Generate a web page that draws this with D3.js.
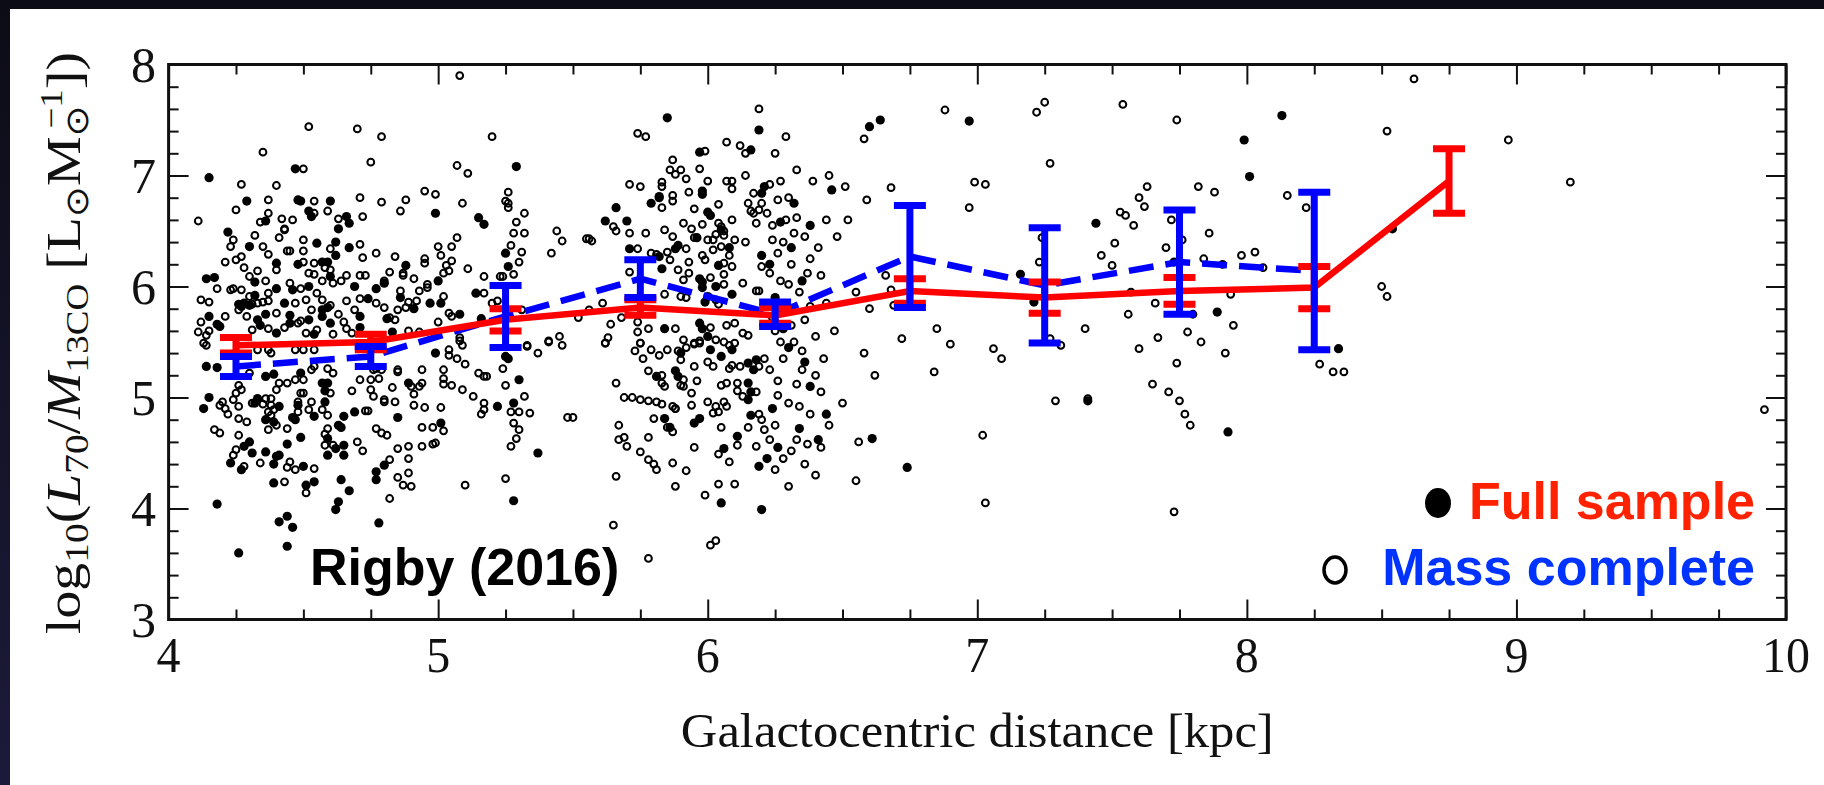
<!DOCTYPE html>
<html><head><meta charset="utf-8">
<script src="https://cdn.jsdelivr.net/npm/d3@7"></script>
<style>body{margin:0;background:#fff;} svg{display:block}</style>
</head><body>
<svg id="c" width="1824" height="785"></svg>
<script>
// ---------- DATA ----------
const openPts = [
[4.52,7.44],[4.70,7.42],[4.35,7.21],[4.50,7.06],[4.27,6.92],[4.40,6.91],[4.37,6.78],[4.54,6.77],[4.71,6.80],[4.25,6.69],[4.37,6.66],[4.54,6.66],[4.59,6.68],[4.72,6.63],[4.11,6.59],[4.34,6.58],[4.42,6.61],[4.46,6.60],[4.63,6.61],[4.43,6.52],[4.43,6.51],[4.32,6.46],[4.24,6.42],[4.41,6.44],[4.50,6.42],[4.23,6.36],[4.35,6.36],[4.71,6.38],[4.45,6.32],[4.44,6.32],[4.50,6.32],[4.60,6.34],[4.37,6.29],[4.27,6.27],[4.21,6.22],[4.25,6.24],[4.72,6.26],[4.50,6.22],[4.54,6.21],[4.28,6.17],[4.33,6.14],[4.40,6.15],[4.58,6.17],[4.52,6.12],[4.60,6.15],[4.30,6.09],[4.54,6.11],[4.57,6.05],[4.61,6.03],[4.66,6.10],[4.71,6.10],[4.73,6.10],[4.36,6.05],[4.45,6.03],[4.64,6.05],[4.18,5.98],[4.23,5.97],[4.24,5.98],[4.27,5.97],[4.49,5.98],[4.30,5.91],[4.37,5.94],[4.55,5.94],[4.12,5.88],[4.15,5.86],[4.35,5.86],[4.37,5.87],[4.47,5.85],[4.51,5.88],[4.57,5.88],[4.66,5.87],[4.71,5.89],[4.26,5.79],[4.31,5.84],[4.33,5.85],[4.53,5.79],[4.60,5.83],[4.69,5.79],[4.21,5.73],[4.29,5.73],[4.40,5.76],[4.49,5.69],[4.63,5.75],[4.12,5.68],[4.37,5.62],[4.43,5.63],[4.48,5.67],[4.55,5.61],[4.65,5.68],[4.66,5.62],[4.11,5.59],[4.15,5.60],[4.14,5.56],[4.31,5.61],[4.51,5.58],[4.61,5.57],[4.68,5.58],[4.13,5.49],
[5.08,7.90],[4.79,7.35],[5.20,7.35],[4.75,7.12],[5.07,7.09],[5.11,7.02],[4.95,6.86],[4.99,6.83],[4.79,6.76],[4.88,6.78],[5.09,6.75],[5.26,6.85],[5.25,6.77],[5.26,6.75],[5.26,6.71],[4.86,6.68],[5.32,6.66],[5.29,6.58],[5.28,6.48],[5.32,6.48],[5.44,6.50],[5.46,6.41],[5.07,6.44],[5.00,6.36],[5.05,6.36],[5.27,6.37],[4.77,6.30],[4.84,6.27],[4.95,6.25],[4.95,6.21],[5.01,6.28],[5.05,6.23],[5.03,6.19],[5.31,6.31],[5.42,6.30],[5.30,6.22],[5.11,6.16],[4.82,6.13],[4.87,6.12],[4.87,6.10],[5.04,6.14],[5.02,6.12],[5.17,6.09],[5.23,6.09],[5.24,6.09],[5.28,6.11],[4.91,6.07],[4.80,6.05],[4.96,6.02],[4.96,5.99],[4.86,5.96],[4.93,5.96],[5.02,5.91],[5.17,5.94],[4.77,5.85],[4.80,5.81],[4.89,5.86],[4.88,5.81],[4.92,5.87],[5.20,5.85],[5.22,5.87],[4.85,5.79],[4.82,5.72],[4.84,5.70],[5.04,5.76],[5.05,5.73],[5.00,5.68],[5.31,5.79],[4.89,5.60],[4.93,5.59],[5.08,5.54],[5.08,5.51],[5.33,5.47],[5.41,5.51],[5.45,5.55],
[6.19,7.60],[5.74,7.38],[5.77,7.35],[6.07,7.30],[6.12,7.27],[6.14,7.20],[5.99,7.22],[5.87,7.14],[5.86,7.05],[5.88,7.01],[5.90,7.05],[5.92,6.97],[5.97,7.06],[6.14,7.00],[5.71,6.92],[5.75,6.90],[5.83,6.94],[5.83,6.90],[6.00,6.95],[6.07,6.95],[6.09,6.95],[6.09,6.88],[5.93,6.85],[5.87,6.82],[5.87,6.77],[6.17,6.84],[5.83,6.71],[5.95,6.70],[6.04,6.74],[6.15,6.75],[6.16,6.68],[6.17,6.66],[6.19,6.69],[6.20,6.75],[6.22,6.66],[5.65,6.54],[5.66,6.50],[5.91,6.57],[5.98,6.56],[6.04,6.57],[6.05,6.54],[6.06,6.50],[6.09,6.60],[6.18,6.57],[5.55,6.43],[5.56,6.43],[5.57,6.41],[5.71,6.48],[5.77,6.48],[5.84,6.51],[5.87,6.45],[5.94,6.52],[5.95,6.44],[6.00,6.42],[6.02,6.42],[6.03,6.47],[6.06,6.46],[6.10,6.42],[6.14,6.40],[5.74,6.34],[5.79,6.30],[5.81,6.29],[5.85,6.31],[5.86,6.24],[5.92,6.34],[5.93,6.22],[5.98,6.28],[5.99,6.24],[6.02,6.33],[6.05,6.36],[6.08,6.28],[6.06,6.21],[6.09,6.18],[6.20,6.18],[5.71,6.13],[5.89,6.15],[5.91,6.06],[5.93,6.12],[6.01,6.08],[6.06,6.11],[6.06,6.02],[6.13,6.03],[6.18,5.96],[6.19,5.96],[5.90,5.91],[5.92,5.90],[6.03,5.88],[6.04,5.84],[5.84,5.93],[5.61,5.85],[5.56,5.79],[5.52,5.72],[5.64,5.66],[5.68,5.72],[5.74,5.68],[5.74,5.59],[5.78,5.62],[5.88,5.62],[6.01,5.63],[6.07,5.65],[6.10,5.67],[6.13,5.58],[6.15,5.56],[5.63,5.54],[5.62,5.49],[5.75,5.49],[5.91,5.52],[5.95,5.48],[5.97,5.51],[6.03,5.52],[6.06,5.50],[6.10,5.49],
[4.14,5.47],[4.33,5.43],[4.37,5.43],[4.38,5.40],[4.47,5.43],[4.50,5.43],[4.54,5.43],[4.30,5.22],[4.41,5.13],[4.44,5.13],[4.47,5.16],[4.50,5.16],[4.53,5.25],[4.54,5.28],[4.61,5.22],[4.59,5.26],[4.68,5.06],[4.71,5.16],[4.26,5.11],[4.27,5.07],[4.25,5.04],[4.40,5.07],[4.49,5.04],[4.60,5.04],[4.24,4.98],[4.20,4.96],[4.19,4.93],[4.21,4.90],[4.22,4.85],[4.26,4.92],[4.31,4.95],[4.36,4.99],[4.38,4.99],[4.35,4.94],[4.38,4.93],[4.39,4.89],[4.37,4.87],[4.38,4.84],[4.48,4.87],[4.48,4.96],[4.50,5.04],[4.52,4.89],[4.53,4.96],[4.57,4.89],[4.59,4.84],[4.73,4.88],[4.26,4.81],[4.29,4.78],[4.40,4.75],[4.37,4.71],[4.44,4.72],[4.17,4.71],[4.19,4.68],[4.26,4.66],[4.25,4.53],[4.24,4.48],[4.58,4.67],[4.59,4.72],[4.58,4.57],[4.61,4.57],[4.70,4.60],[4.72,4.52],[4.28,4.38],[4.34,4.41],[4.44,4.37],[4.45,4.42],[4.47,4.35],[4.54,4.36],[4.43,4.24],[4.51,4.14],
[5.04,5.43],[5.04,5.38],[5.07,5.35],[5.09,5.47],[5.10,5.30],[5.24,5.26],[5.33,5.46],[5.37,5.40],[5.41,5.50],[5.46,5.47],[5.25,5.11],[4.76,5.25],[4.77,5.26],[4.79,5.25],[4.75,5.16],[4.78,5.17],[4.85,5.23],[4.85,5.25],[4.94,5.25],[5.02,5.25],[4.90,5.10],[4.91,5.03],[4.93,5.10],[4.94,5.13],[4.83,5.09],[4.75,5.07],[5.02,5.17],[5.02,5.12],[5.05,5.11],[5.09,5.07],[5.15,5.22],[5.17,5.19],[5.18,5.19],[5.13,5.01],[5.17,4.95],[5.17,4.89],[5.16,4.85],[5.32,5.01],[5.27,4.87],[5.30,4.87],[5.34,4.86],[5.28,4.77],[5.30,4.71],[5.29,4.63],[5.27,4.56],[5.48,4.82],[4.76,5.01],[4.80,4.98],[4.80,4.96],[4.84,4.96],[4.74,4.88],[4.91,4.93],[4.95,4.91],[5.01,4.91],[4.94,4.73],[4.98,4.73],[5.02,4.70],[4.77,4.72],[4.79,4.68],[4.81,4.66],[4.85,4.54],[4.89,4.56],[4.94,4.56],[4.98,4.58],[4.99,4.59],[4.89,4.45],[4.82,4.44],[4.85,4.28],[4.87,4.21],[4.90,4.20],[4.89,4.32],[5.10,4.21],[5.25,4.27],[4.82,4.09],
[5.62,5.49],[5.75,5.49],[5.73,5.42],[5.76,5.35],[5.79,5.43],[5.82,5.38],[5.85,5.43],[5.89,5.42],[5.90,5.34],[5.92,5.45],[5.95,5.49],[5.97,5.49],[6.00,5.32],[6.02,5.28],[6.08,5.47],[6.08,5.26],[6.09,5.29],[6.12,5.28],[6.19,5.28],[6.21,5.35],[5.78,5.24],[5.83,5.20],[5.84,5.10],[5.83,5.13],[5.91,5.16],[5.91,5.10],[5.90,5.11],[5.96,5.15],[5.95,5.28],[5.66,5.13],[5.69,5.00],[5.72,5.00],[5.75,4.98],[5.78,4.97],[5.81,4.96],[5.83,4.94],[5.87,4.92],[5.88,4.90],[5.94,5.04],[5.94,4.93],[6.00,4.96],[6.03,4.92],[6.02,4.86],[6.04,4.87],[6.06,4.96],[6.07,4.92],[6.05,5.11],[6.07,5.13],[6.11,5.13],[6.11,5.06],[6.13,5.01],[6.18,5.05],[5.50,4.82],[5.67,4.75],[5.67,4.62],[5.69,4.64],[5.70,4.56],[5.75,4.51],[5.78,4.44],[5.80,4.40],[5.81,4.35],[5.78,4.64],[5.80,4.81],[5.87,4.69],[5.85,4.73],[5.88,4.90],[5.95,4.55],[5.87,4.41],[5.92,4.34],[5.88,4.20],[5.66,4.29],[5.65,3.85],[5.78,3.55],[5.99,4.12],[6.01,3.67],[6.03,3.71],[6.04,4.22],[6.10,4.22],[6.04,4.49],[6.08,4.42],[6.05,4.73],[6.11,4.57],[6.15,4.73],[6.19,4.85],[6.20,4.80],[6.21,4.71],[6.18,4.56],
[6.25,7.20],[6.27,6.95],[6.30,6.80],[6.24,6.55],[6.28,6.40],[6.33,6.62],[6.36,6.45],[6.26,6.30],[6.31,6.20],[6.38,6.25],[6.42,6.10],[6.27,6.05],[6.34,5.95],[6.29,5.80],[6.36,5.70],[6.44,5.85],[6.25,5.60],[6.32,5.50],[6.40,5.55],[6.47,5.60],[6.28,5.35],[6.35,5.25],[6.26,5.15],[6.42,5.05],[6.30,4.95],[6.38,4.85],[6.25,4.75],[6.33,4.62],[6.45,4.75],[6.28,4.45],[6.40,4.30],[6.30,4.20],[6.48,6.45],[6.52,6.60],[6.45,7.00],[6.55,5.95],[6.60,5.80],[6.58,5.40],[6.62,5.20],[6.50,4.95],[6.56,4.60],
[6.23,6.92],[6.26,6.78],[6.24,6.42],[6.29,6.60],[6.32,6.48],[6.23,6.12],[6.30,6.02],[6.37,6.12],[6.24,5.72],[6.31,5.65],[6.38,5.82],[6.27,5.50],[6.35,5.42],[6.23,5.25],[6.33,5.12],[6.40,5.20],[6.26,5.02],[6.34,4.92],[6.23,4.62],[6.31,4.52],[6.37,4.58],[6.25,4.35],[6.36,4.40],[6.42,4.55],[6.43,5.35],[6.41,6.35],[6.44,6.60],[6.39,6.95],[6.33,7.05],[6.29,7.35],
[6.51,6.90],[6.58,7.33],[6.59,6.78],[6.68,6.89],[6.66,6.10],[6.68,5.97],[6.69,5.83],[6.72,5.53],[6.55,4.25],[6.88,7.59],[6.99,6.94],[6.97,6.71],[7.03,6.92],[6.90,5.48],[6.85,5.62],[6.84,5.23],[7.02,4.66],[7.03,4.05],[7.06,5.44],[7.09,5.35],[7.22,7.57],[7.25,7.66],[7.27,7.11],[7.24,6.44],[7.23,6.22],[7.31,5.47],[7.27,5.53],[7.29,4.97],[7.40,5.62],[7.41,4.99],[7.46,6.28],[7.50,6.19],[7.54,7.64],[7.51,6.39],[7.53,6.67],[7.55,6.64],[7.60,6.80],[7.63,6.90],[7.56,5.75],[7.60,5.44],[7.67,5.54],[7.65,5.12],[7.74,7.50],[7.74,5.31],[7.75,4.97],[7.78,5.59],[7.80,5.75],[7.82,6.90],[7.86,6.48],[7.88,6.85],[7.91,6.20],[7.94,5.93],[7.95,5.65],[7.98,6.28],[8.03,6.31],[8.06,6.17],[7.73,3.97],[8.15,6.82],[8.22,6.71],[8.27,5.30],[8.32,5.23],[8.36,5.23],[8.52,7.40],[8.62,7.87],[8.50,6.00],[8.52,5.91],[8.97,7.32],[9.20,6.94],[9.92,4.89],
[7.58,6.55],[7.62,6.72],[7.70,6.35],[7.72,6.60],[7.76,6.42],[7.84,6.25],[7.57,5.95],[7.66,5.85],[7.83,5.50],[7.92,5.40],[7.71,5.05],[7.79,4.75],[7.77,4.85]
];
const filledPts = [
[4.47,7.06],[4.15,6.98],[4.29,6.77],[4.48,6.78],[4.49,6.77],[4.60,6.77],[4.52,6.68],[4.53,6.63],[4.36,6.59],[4.66,6.63],[4.67,6.57],[4.22,6.49],[4.63,6.52],[4.55,6.39],[4.62,6.40],[4.30,6.36],[4.67,6.35],[4.62,6.28],[4.40,6.21],[4.48,6.20],[4.57,6.22],[4.59,6.22],[4.14,6.07],[4.17,6.08],[4.60,6.09],[4.32,6.04],[4.40,5.98],[4.46,5.97],[4.52,6.00],[4.69,6.00],[4.26,5.84],[4.28,5.85],[4.27,5.82],[4.30,5.83],[4.32,5.92],[4.43,5.85],[4.57,5.79],[4.59,5.81],[4.74,5.89],[4.15,5.73],[4.33,5.70],[4.36,5.75],[4.45,5.74],[4.52,5.70],[4.57,5.73],[4.71,5.73],[4.18,5.66],[4.19,5.64],[4.34,5.65],[4.45,5.67],[4.60,5.67],[4.71,5.63],[4.40,5.58],[4.54,5.57],
[5.29,7.08],[4.99,6.66],[5.15,6.62],[5.17,6.56],[5.25,6.30],[5.26,6.18],[4.88,6.19],[4.80,6.03],[5.00,6.05],[4.77,5.98],[4.86,5.90],[5.14,5.94],[4.91,5.80],[4.97,5.85],[5.01,5.85],[4.81,5.71],[5.08,5.75],[5.16,5.71],[4.83,5.59],
[5.85,7.52],[6.19,7.41],[6.16,7.23],[5.97,7.21],[6.21,6.90],[6.20,6.84],[5.98,6.86],[5.98,6.83],[5.82,6.81],[5.82,6.80],[5.79,6.75],[5.66,6.71],[6.00,6.67],[6.01,6.64],[5.62,6.59],[5.70,6.59],[5.96,6.44],[6.05,6.51],[5.71,6.34],[5.82,6.27],[5.88,6.34],[5.89,6.37],[6.08,6.35],[6.04,6.19],[6.20,6.28],[5.83,6.16],[5.97,6.07],[5.98,6.04],[5.98,5.99],[6.03,6.00],[6.09,5.93],[6.00,5.91],[5.99,5.86],[5.84,5.62],[5.97,5.67],[5.98,5.62],[6.00,5.55],
[4.14,5.28],[4.18,5.27],[4.36,5.19],[4.39,5.21],[4.49,5.22],[4.57,5.13],[4.59,5.13],[4.58,5.06],[4.15,5.00],[4.13,4.90],[4.32,4.95],[4.33,4.99],[4.41,4.92],[4.48,4.93],[4.58,4.96],[4.65,4.83],[4.69,4.87],[4.36,4.80],[4.39,4.78],[4.46,4.82],[4.47,4.80],[4.54,4.83],[4.30,4.60],[4.31,4.50],[4.28,4.56],[4.36,4.51],[4.40,4.47],[4.41,4.48],[4.44,4.58],[4.49,4.64],[4.59,4.63],[4.62,4.54],[4.65,4.48],[4.65,4.57],[4.63,4.75],[4.64,4.73],[4.59,4.48],[4.23,4.41],[4.27,4.35],[4.39,4.40],[4.50,4.38],[4.39,4.23],[4.51,4.21],[4.54,4.24],[4.64,4.26],[4.67,4.16],[4.63,4.06],[4.62,3.99],[4.18,4.04],[4.41,3.88],[4.44,3.93],[4.46,3.83],[4.44,3.66],[4.26,3.60],
[4.99,5.40],[5.25,5.37],[5.26,5.35],[5.30,5.16],[4.89,5.13],[5.22,4.92],[5.28,4.95],[4.85,4.82],[5.01,4.77],[5.37,4.50],[4.80,4.39],[4.77,4.33],[4.77,4.26],[5.28,4.07],[4.78,3.87],
[5.90,5.40],[6.01,5.43],[6.05,5.37],[6.09,5.43],[6.15,5.31],[6.17,5.25],[6.18,5.34],[5.81,5.19],[5.88,5.24],[5.89,5.19],[6.15,5.13],[6.16,5.05],[6.15,4.98],[5.84,4.81],[5.86,4.73],[5.95,4.77],[5.97,4.81],[6.06,4.54],[6.05,4.05],[6.11,4.65],[6.16,4.84],[6.19,4.38],[6.20,3.99],[6.22,4.45],
[6.27,6.58],[6.31,6.35],[6.35,6.05],[6.25,5.90],[6.30,5.45],[6.38,5.10],[6.24,4.90],[6.34,4.72],[6.44,4.85],
[6.23,6.20],[6.28,5.62],[6.36,5.32],[6.26,4.55],[6.41,4.62],[6.32,6.75],[6.38,6.55],
[6.46,6.87],[6.64,7.50],[6.60,7.44],[6.74,4.37],[6.61,4.63],[6.97,7.49],[7.16,6.11],[7.21,5.86],[7.44,6.57],[7.41,4.97],[7.73,6.22],[7.89,5.77],[7.93,4.69],[7.99,7.32],[8.01,6.99],[8.13,7.54],[8.34,5.44],[8.54,6.52]
];
const binCentres   = [4.25, 4.75, 5.25, 5.75, 6.25, 6.75, 7.25, 7.75, 8.25, 8.75];
const fullMedian   = [5.47, 5.50, 5.70, 5.81, 5.74, 5.96, 5.90, 5.96, 5.99, 6.95];
const fullErr      = [0.07, 0.07, 0.10, 0.07, 0.07, 0.11, 0.14, 0.12, 0.19, 0.29];
const massMedian   = [5.28, 5.37, 5.73, 6.07, 5.75, 6.27, 6.01, 6.22, 6.14];
const massErr      = [0.09, 0.09, 0.28, 0.17, 0.11, 0.46, 0.52, 0.47, 0.71];
const xTickLabels  = [4, 5, 6, 7, 8, 9, 10];
const yTickLabels  = [3, 4, 5, 6, 7, 8];
const legendLabels = ["Full sample", "Mass complete"];
const annotation   = "Rigby (2016)";

// ---------- LAYOUT ----------
const svg = d3.select("#c");
const X0 = 168.6, X1 = 1786, Y0 = 619.5, Y1 = 64.5;
const x = d3.scaleLinear().domain([4, 10]).range([X0, X1]);
const y = d3.scaleLinear().domain([3, 8]).range([Y0, Y1]);
const RED = "#ff0000", BLUE = "#0000ff";

svg.append("rect").attr("x",0).attr("y",0).attr("width",1824).attr("height",785).attr("fill","#fff");
svg.append("rect").attr("x",0).attr("y",0).attr("width",1824).attr("height",9).attr("fill","#0c0c16");
const g0 = svg.append("defs").append("linearGradient").attr("id","lg").attr("x1",0).attr("y1",0).attr("x2",0).attr("y2",1);
g0.append("stop").attr("offset","0").attr("stop-color","#0c0c16");
g0.append("stop").attr("offset","1").attr("stop-color","#1c1a3a");
svg.append("rect").attr("x",0).attr("y",0).attr("width",10).attr("height",785).attr("fill","url(#lg)");

svg.append("defs").append("clipPath").attr("id","clip")
  .append("rect").attr("x",X0).attr("y",Y1).attr("width",X1-X0).attr("height",Y0-Y1);
const plot = svg.append("g").attr("clip-path","url(#clip)");

plot.append("g").selectAll("circle").data(openPts).join("circle")
  .attr("cx",d=>x(d[0])).attr("cy",d=>y(d[1])).attr("r",3.4)
  .attr("fill","none").attr("stroke","#000").attr("stroke-width",2);
plot.append("g").selectAll("circle").data(filledPts).join("circle")
  .attr("cx",d=>x(d[0])).attr("cy",d=>y(d[1])).attr("r",4.6).attr("fill","#000");

const massData = massMedian.map((v,i)=>({x:binCentres[i],y:v,e:massErr[i]}));
const fullData = fullMedian.map((v,i)=>({x:binCentres[i],y:v,e:fullErr[i]}));
const line = d3.line().x(d=>x(d.x)).y(d=>y(d.y));
plot.append("path").datum(massData).attr("d",line).attr("fill","none")
  .attr("stroke",BLUE).attr("stroke-width",6.5).attr("stroke-dasharray","25 12");
plot.append("path").datum(fullData).attr("d",line).attr("fill","none")
  .attr("stroke",RED).attr("stroke-width",6.5);

function errbars(data, col){
  const gg = plot.append("g").attr("stroke",col).attr("stroke-width",7);
  gg.selectAll(".v").data(data).join("line")
    .attr("x1",d=>x(d.x)).attr("x2",d=>x(d.x)).attr("y1",d=>y(d.y-d.e)).attr("y2",d=>y(d.y+d.e));
  gg.selectAll(".t").data(data).join("line")
    .attr("x1",d=>x(d.x)-16).attr("x2",d=>x(d.x)+16).attr("y1",d=>y(d.y+d.e)).attr("y2",d=>y(d.y+d.e));
  gg.selectAll(".b").data(data).join("line")
    .attr("x1",d=>x(d.x)-16).attr("x2",d=>x(d.x)+16).attr("y1",d=>y(d.y-d.e)).attr("y2",d=>y(d.y-d.e));
}
errbars(fullData, RED);
errbars(massData, BLUE);

// ---------- AXES ----------
const minorX = d3.range(4, 10.001, 0.25).filter(v=>Math.abs(v-Math.round(v))>0.01);
const minorY = d3.range(3, 8.001, 0.2).filter(v=>Math.abs(v-Math.round(v))>0.01);
function ax(gen, tx, ty, vals, len){
  svg.append("g").attr("transform",`translate(${tx},${ty})`)
    .call(gen.tickValues(vals).tickSize(len).tickFormat(""))
    .call(g=>{g.select(".domain").remove(); g.selectAll("line").attr("stroke","#111").attr("stroke-width",2);});
}
ax(d3.axisBottom(x), 0, Y0, xTickLabels, -20);
ax(d3.axisBottom(x), 0, Y0, minorX, -10);
ax(d3.axisTop(x), 0, Y1, xTickLabels, -20);
ax(d3.axisTop(x), 0, Y1, minorX, -10);
ax(d3.axisLeft(y), X0, 0, yTickLabels, -20);
ax(d3.axisLeft(y), X0, 0, minorY, -10);
ax(d3.axisRight(y), X1, 0, yTickLabels, -20);
ax(d3.axisRight(y), X1, 0, minorY, -10);
svg.append("rect").attr("x",X0).attr("y",Y1).attr("width",X1-X0).attr("height",Y0-Y1)
  .attr("fill","none").attr("stroke","#111").attr("stroke-width",3);

const SERIF = "'Liberation Serif','DejaVu Serif',serif";
const SANS = "'Liberation Sans',Arial,sans-serif";
function fitX(sel, cx, cy, target, rot){
  const w = sel.node().getBBox().width;
  sel.attr("transform",`translate(${cx},${cy}) rotate(${rot||0}) scale(${target / w},1)`);
}
xTickLabels.forEach(v=>{
  const t = svg.append("text").text(v).attr("font-family",SERIF).attr("font-size",50)
    .attr("text-anchor","middle").attr("fill","#111");
  fitX(t, x(v), 672, String(v).length*24);
});
yTickLabels.forEach(v=>{
  const t = svg.append("text").text(v).attr("font-family",SERIF).attr("font-size",50)
    .attr("text-anchor","end").attr("fill","#111");
  fitX(t, 156, y(v)+17, 25);
});
const xl = svg.append("text").text("Galactocentric distance [kpc]").attr("font-family",SERIF)
  .attr("font-size",48).attr("text-anchor","middle").attr("fill","#111");
fitX(xl, (X0+X1)/2, 747, 593);

const yl = svg.append("text").attr("font-family",SERIF).attr("font-size",48)
  .attr("text-anchor","middle").attr("fill","#111");
yl.append("tspan").text("log");
yl.append("tspan").text("10").attr("font-size",34).attr("dy",8);
yl.append("tspan").text("(").attr("dy",-8);
yl.append("tspan").text("L").attr("font-style","italic");
yl.append("tspan").text("70").attr("font-size",34).attr("dy",8);
yl.append("tspan").text("/").attr("dy",-8);
yl.append("tspan").text("M").attr("font-style","italic");
yl.append("tspan").text("13CO").attr("font-size",32).attr("dy",8);
yl.append("tspan").text(" [L").attr("dy",-8);
yl.append("tspan").text("⊙").attr("font-size",32).attr("dy",8).attr("font-family","'DejaVu Sans'");
yl.append("tspan").text("M").attr("dy",-8);
yl.append("tspan").text("⊙").attr("font-size",32).attr("dy",8).attr("font-family","'DejaVu Sans'");
yl.append("tspan").text("−1").attr("font-size",32).attr("dy",-26).attr("dx",-20);
yl.append("tspan").text("])").attr("dy",18);
fitX(yl, 80, 343, 582, -90);

svg.append("text").text(annotation).attr("x",310).attr("y",585)
  .attr("font-family",SANS).attr("font-weight","bold").attr("font-size",52).attr("fill","#000");
svg.append("ellipse").attr("cx",1438).attr("cy",503).attr("rx",13).attr("ry",15).attr("fill","#000");
svg.append("ellipse").attr("cx",1335).attr("cy",570).attr("rx",11).attr("ry",13)
  .attr("fill","none").attr("stroke","#000").attr("stroke-width",3.5);
svg.append("text").text(legendLabels[0]).attr("x",1755).attr("y",519).attr("text-anchor","end")
  .attr("font-family",SANS).attr("font-weight","bold").attr("font-size",52).attr("fill","#ff2200");
svg.append("text").text(legendLabels[1]).attr("x",1755).attr("y",585).attr("text-anchor","end")
  .attr("font-family",SANS).attr("font-weight","bold").attr("font-size",52).attr("fill","#0033ff");
</script>
</body></html>
